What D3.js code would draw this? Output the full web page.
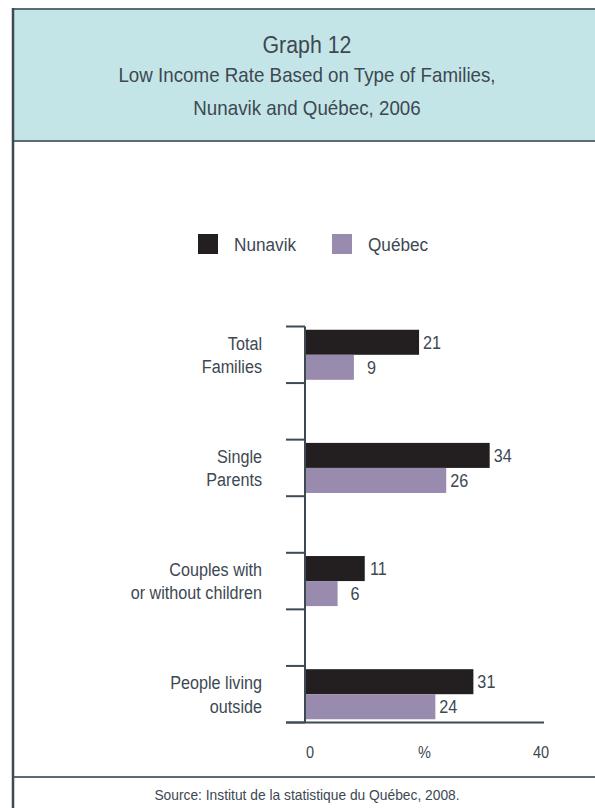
<!DOCTYPE html>
<meta charset="utf-8">

<head>
  <style>
    body {
      margin: 0;
      background: #fff;
    }

    svg text {
      font-family: "Liberation Sans", Arial, sans-serif;
      fill: #3d4852;
    }

    .axis line {
      stroke: #3d4a52;
      stroke-width: 2px;
    }

    .rule {
      stroke: #5d6b73;
      stroke-width: 2px;
    }
  </style>
</head>

<body>
  <script src="https://d3js.org/d3.v7.min.js"></script>

  <div id="chart"></div>

  <script>

    // data
    var categories = ["Total Families", "Single Parents", "Couples with or without children", "People living outside"];
    var categoryLines = [["Total", "Families"], ["Single", "Parents"], ["Couples with", "or without children"], ["People living", "outside"]];
    var seriesNames = ["Nunavik", "Québec"];
    var nunavik = [21, 34, 11, 31];
    var quebec = [9, 26, 6, 24];
    var tickLabels = ["0", "%", "40"];
    var seriesColors = ["#231f20", "#988bad"];

    var width = 595,
      height = 808;

    // the original face is a condensed sans, so squeeze a normal one a bit
    var squeeze = 0.92;

    var svg = d3.select('#chart')
      .append('svg')
      .attr('width', width)
      .attr('height', height);

    function label(parent, x, y, str, size, anchor) {
      var g = parent.append('g')
        .attr('transform', 'translate(' + x + ',' + y + ') scale(' + squeeze + ',1)');
      return g.append('text')
        .attr('text-anchor', anchor || 'start')
        .style('font-size', size + 'px')
        .text(str);
    }

    // frame and header
    svg.append('rect')
      .attr('x', 13)
      .attr('y', 9)
      .attr('width', width)
      .attr('height', 132)
      .attr('fill', '#c4e5e7');

    [9, 141, 777].forEach(function (ly) {
      svg.append('line').attr('class', 'rule')
        .attr('x1', 12).attr('x2', width).attr('y1', ly).attr('y2', ly);
    });
    svg.append('line')
      .attr('x1', 13).attr('x2', 13).attr('y1', 8).attr('y2', height)
      .attr('stroke', '#3d4a52')
      .attr('stroke-width', 2.5);

    var cx = 307;
    label(svg, cx, 53, 'Graph 12', 23.2, 'middle');
    label(svg, cx, 82, 'Low Income Rate Based on Type of Families,', 20.4, 'middle');
    label(svg, cx, 114.5, 'Nunavik and Québec, 2006', 20.4, 'middle');

    // legend
    var legendX = [198, 332];
    seriesNames.forEach(function (name, i) {
      svg.append('rect')
        .attr('x', legendX[i]).attr('y', 234)
        .attr('width', 20).attr('height', 20)
        .attr('fill', seriesColors[i]);
      label(svg, legendX[i] + 36, 251, name, 18.7);
    });

    // scales
    var x = d3.scaleLinear()
      .domain([0, 44])
      .range([305, 544]);

    var y = d3.scaleBand()
      .domain(categories)
      .range([326.5, 722.5])
      .paddingInner(0.5)
      .paddingOuter(0);

    var ySub = d3.scaleBand()
      .domain(seriesNames)
      .range([0, y.bandwidth()])
      .paddingOuter(0.13);

    var rows = categories.map(function (c, i) {
      return { cat: c, lines: categoryLines[i], values: [nunavik[i], quebec[i]] };
    });

    // axes
    var g = svg.append('g').attr('class', 'axis');
    g.append('line')
      .attr('x1', x(0)).attr('x2', x(0))
      .attr('y1', y.range()[0]).attr('y2', y.range()[1]);
    g.append('line')
      .attr('x1', x(0) - 19).attr('x2', x(44))
      .attr('y1', y.range()[1]).attr('y2', y.range()[1]);
    rows.forEach(function (r) {
      [y(r.cat), y(r.cat) + y.bandwidth()].forEach(function (ty) {
        g.append('line')
          .attr('x1', x(0) - 19).attr('x2', x(0))
          .attr('y1', ty).attr('y2', ty);
      });
    });

    // bars
    var groups = svg.selectAll('g.row')
      .data(rows)
      .enter()
      .append('g')
      .attr('class', 'row')
      .attr('transform', function (d) { return 'translate(0,' + y(d.cat) + ')'; });

    groups.selectAll('rect')
      .data(function (d) { return d.values.map(function (v, i) { return { v: v, s: seriesNames[i], i: i }; }); })
      .enter()
      .append('rect')
      .attr('x', x(0) + 1)
      .attr('y', function (d) { return ySub(d.s); })
      .attr('width', function (d) { return x(d.v) - x(0) - 1; })
      .attr('height', ySub.bandwidth())
      .attr('fill', function (d) { return seriesColors[d.i]; });

    // value labels and category labels
    groups.each(function (d) {
      var row = d3.select(this);
      d.values.forEach(function (v, i) {
        label(row, x(v) + 22, ySub(seriesNames[i]) + ySub.bandwidth() / 2 + 6.5, v, 17.6, 'end');
      });
      d.lines.forEach(function (line, k) {
        label(row, 262, y.bandwidth() / 2 - 5 + k * 23.4, line, 17.6, 'end');
      });
    });

    // x tick labels
    var tickX = [x(0) + 1, (x(0) + x(44)) / 2, x(44) - 3];
    var tickAnchor = ['start', 'middle', 'middle'];
    tickLabels.forEach(function (t, i) {
      label(svg, tickX[i], 758, t, 15.8, tickAnchor[i]);
    });

    // source
    label(svg, cx, 800, 'Source: Institut de la statistique du Québec, 2008.', 15, 'middle');
  </script>
</body>
